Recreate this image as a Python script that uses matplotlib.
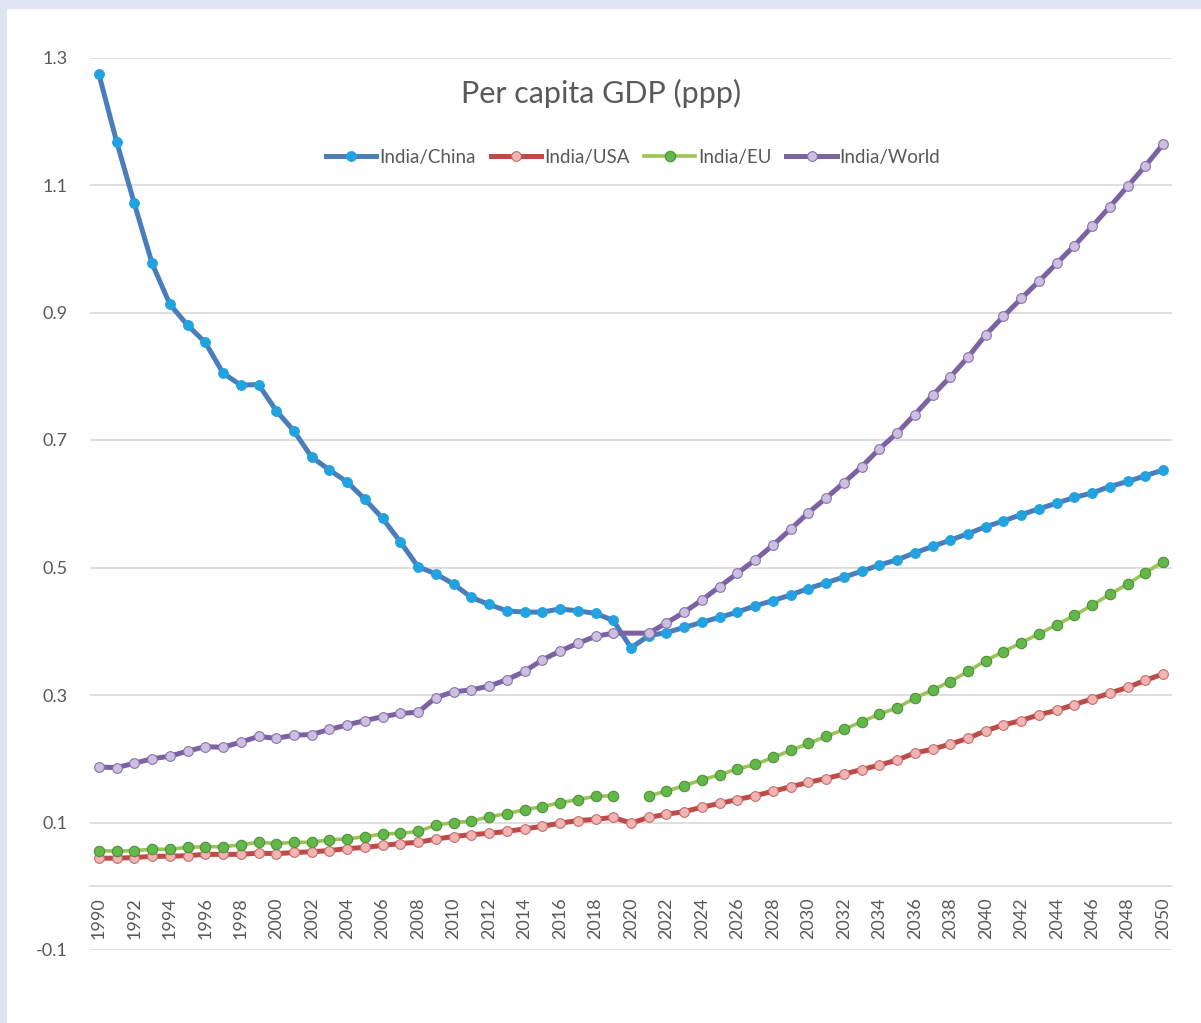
import numpy as np
import matplotlib
matplotlib.use("Agg")
import matplotlib.pyplot as plt
from matplotlib.patches import Rectangle

years = list(range(1990, 2051))

india_china = [1.274, 1.168, 1.071, 0.977, 0.913, 0.880, 0.853, 0.805, 0.786, 0.787,
               0.746, 0.714, 0.673, 0.653, 0.634, 0.607, 0.577, 0.540, 0.501, 0.490,
               0.474, 0.453, 0.442, 0.432, 0.430, 0.430, 0.435, 0.432, 0.428, 0.417,
               0.374, 0.393, 0.398, 0.406, 0.414, 0.422, 0.430, 0.440, 0.448, 0.457,
               0.467, 0.476, 0.485, 0.494, 0.504, 0.512, 0.523, 0.533, 0.543, 0.553,
               0.564, 0.573, 0.583, 0.592, 0.601, 0.610, 0.617, 0.627, 0.635, 0.644,
               0.653]

india_usa = [0.044, 0.044, 0.045, 0.047, 0.047, 0.048, 0.050, 0.050, 0.050, 0.052,
             0.051, 0.053, 0.054, 0.056, 0.059, 0.061, 0.064, 0.067, 0.069, 0.074,
             0.078, 0.081, 0.083, 0.086, 0.090, 0.094, 0.099, 0.103, 0.105, 0.108,
             0.099, 0.108, 0.113, 0.117, 0.124, 0.130, 0.136, 0.142, 0.149, 0.156,
             0.163, 0.169, 0.176, 0.183, 0.190, 0.198, 0.209, 0.215, 0.223, 0.232,
             0.244, 0.253, 0.260, 0.269, 0.276, 0.285, 0.294, 0.303, 0.312, 0.323,
             0.333]

india_eu = [0.056, 0.055, 0.056, 0.058, 0.058, 0.061, 0.062, 0.062, 0.065, 0.069,
            0.067, 0.069, 0.069, 0.073, 0.074, 0.078, 0.082, 0.083, 0.086, 0.096,
            0.100, 0.102, 0.109, 0.114, 0.120, 0.125, 0.131, 0.136, 0.141, 0.142,
            np.nan, 0.142, 0.149, 0.158, 0.167, 0.175, 0.184, 0.191, 0.202, 0.213,
            0.224, 0.235, 0.246, 0.258, 0.270, 0.280, 0.295, 0.308, 0.321, 0.337,
            0.354, 0.368, 0.382, 0.396, 0.410, 0.425, 0.441, 0.458, 0.474, 0.492,
            0.509]

india_world = [0.187, 0.186, 0.193, 0.200, 0.204, 0.212, 0.219, 0.218, 0.226, 0.235,
               0.232, 0.237, 0.238, 0.246, 0.253, 0.260, 0.266, 0.271, 0.273, 0.296,
               0.305, 0.308, 0.314, 0.324, 0.337, 0.355, 0.369, 0.381, 0.392, 0.397,
               np.nan, 0.397, 0.413, 0.430, 0.449, 0.470, 0.491, 0.512, 0.535, 0.560,
               0.586, 0.609, 0.633, 0.658, 0.686, 0.711, 0.740, 0.770, 0.799, 0.830,
               0.865, 0.894, 0.922, 0.949, 0.977, 1.005, 1.035, 1.066, 1.098, 1.130,
               1.164]

y_ticks = [-0.1, 0.1, 0.3, 0.5, 0.7, 0.9, 1.1, 1.3]
x_ticks = list(range(1990, 2051, 2))

FONT = ["Lato", "DejaVu Sans"]
plt.rcParams['font.family'] = FONT

W, H = 1201, 1023
fig = plt.figure(figsize=(W / 100, H / 100), dpi=100, facecolor="white")
# light blue frame around the white chart panel
frame = "#dde6f0"
fig.add_artist(Rectangle((0, 1 - 9 / H), 1, 9 / H, transform=fig.transFigure,
                         facecolor=frame, edgecolor="none", zorder=-5))
fig.add_artist(Rectangle((0, 0), 7 / W, 1, transform=fig.transFigure,
                         facecolor=frame, edgecolor="none", zorder=-5))

left, right = 90 / W, 1172 / W
top, bottom = 1 - 57.5 / H, 1 - 950 / H
ax = fig.add_axes([left, bottom, right - left, top - bottom])
ax.set_facecolor("none")
ax.set_xlim(1989.5, 2050.5)
ax.set_ylim(-0.1, 1.3)

for s in ["top", "right", "left"]:
    ax.spines[s].set_visible(False)
ax.spines["bottom"].set_position(("data", 0))
ax.spines["bottom"].set_color("#d9d9d9")
ax.spines["bottom"].set_linewidth(1.2)

ax.set_yticks(y_ticks)
ax.set_yticklabels([f"{v:.1f}" for v in y_ticks])
ax.yaxis.grid(True, color="#d9d9d9", linewidth=1.2)
ax.set_axisbelow(True)
ax.set_xticks(x_ticks)
ax.set_xticklabels([str(x) for x in x_ticks], rotation=90)
ax.tick_params(axis="x", length=0, pad=8, labelsize=13, labelcolor="#595959")
ax.tick_params(axis="y", length=0, pad=16, labelsize=13, labelcolor="#595959")

yrs = np.array(years)

def clean(vals):
    v = np.array(vals, dtype=float)
    m = ~np.isnan(v)
    return yrs[m], v[m]

# India/China
ax.plot(yrs, india_china, color="#4a7dba", lw=3.6, marker="o", ms=7,
        mfc="#22a3e0", mec="#22a3e0", mew=0.8, label="India/China", zorder=3)
# India/USA
ax.plot(yrs, india_usa, color="#bf4b48", lw=3.6, marker="o", ms=7,
        mfc="#f2b3b3", mec="#c0706e", mew=0.8, label="India/USA", zorder=4)
# India/EU (gap at 2020)
ax.plot(yrs, india_eu, color="#9bc35a", lw=2.6, marker="o", ms=7.5,
        mfc="#63b84a", mec="#4f8f3a", mew=0.8, label="India/EU", zorder=5)
# India/World (connected across missing 2020)
wx, wy = clean(india_world)
ax.plot(wx, wy, color="#7b62a3", lw=3.6, marker="o", ms=7,
        mfc="#cdbfe0", mec="#8a72ad", mew=0.8, label="India/World", zorder=6)

fig.text(0.5 + 1 / W, 1 - 93 / H, "Per capita GDP (ppp)", ha="center", va="center",
         fontsize=22, color="#595959", family=FONT)

leg = ax.legend(loc="center", bbox_to_anchor=((633 / W - left) / (right - left),
                (1 - 157 / H - bottom) / (top - bottom)),
                ncol=4, frameon=False, fontsize=13.5, handlelength=2.7,
                handletextpad=0.15, columnspacing=0.8, borderaxespad=0)
for t in leg.get_texts():
    t.set_color("#595959")

fig.savefig("out.png", dpi=100, facecolor=fig.get_facecolor())
